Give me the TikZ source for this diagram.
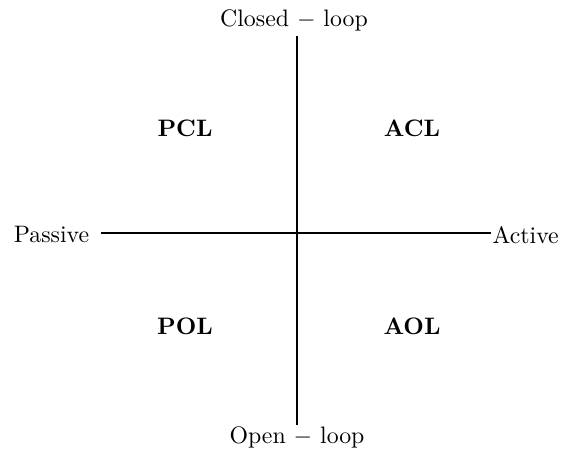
\documentclass[tikz,border=0pt]{standalone}
\begin{document}
\begin{tikzpicture}[x=0.42pt,y=-0.42pt,
  axis/.style={line width=1.1pt},
  quad/.style={font=\bfseries}]
\useasboundingbox (0,0) rectangle (563,450);
\node (closed) at (294,20) {Closed $-$ loop};
\node (open) at (297,437) {Open $-$ loop};
\node[anchor=east,inner sep=1pt] (passive) at (92,235) {Passive};
\node[anchor=west,inner sep=0.5pt] (active) at (491,235) {Active};
\coordinate (top) at (297,36);
\coordinate (bot) at (297,425);
\coordinate (lft) at (101,233);
\coordinate (rgt) at (491,233);
\draw[axis] (top) -- (bot);
\draw[axis] (lft) -- (rgt);
\node[quad] (pcl) at (185,128) {PCL};
\node[quad] (acl) at (412,128) {ACL};
\node[quad] (pol) at (185,326) {POL};
\node[quad] (aol) at (412,326) {AOL};
\end{tikzpicture}
\end{document}
